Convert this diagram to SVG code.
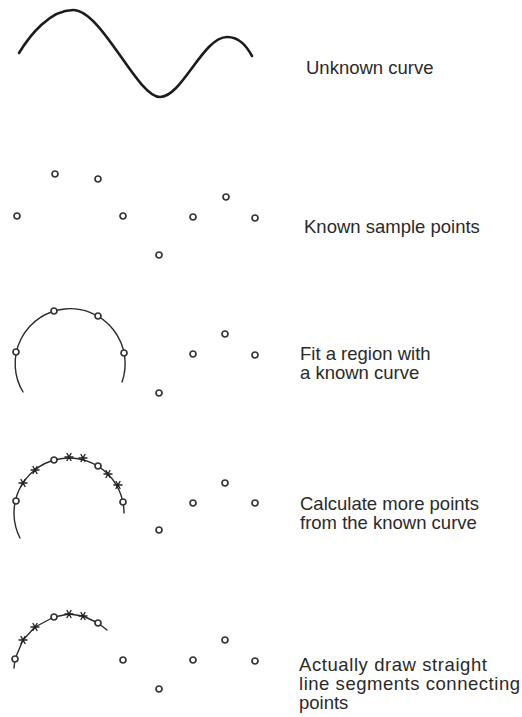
<svg xmlns="http://www.w3.org/2000/svg" xmlns:xlink="http://www.w3.org/1999/xlink" width="522" height="717" viewBox="0 0 522 717">
<style>
.bg{fill:#fff}
.curve{fill:none;stroke:#1c1c1c;stroke-width:2.6;stroke-linecap:round;stroke-linejoin:round}
.arc{fill:none;stroke:#2a2a2a;stroke-width:1.4;stroke-linecap:round;stroke-linejoin:round}
.pt{fill:#fff;stroke:#333;stroke-width:1.7}
.star{fill:none;stroke:#222;stroke-width:1.4;stroke-linecap:round}
.lbl{font-family:"Liberation Sans",Arial,sans-serif;font-size:18.5px;fill:#2a2a2a}
</style>
<defs>
<circle id="p" r="3" class="pt"/>
<path id="s" class="star" d="M-4,0H4M-2,-3.5L2,3.5M-2,3.5L2,-3.5"/>
</defs>
<rect class="bg" width="522" height="717"/>

<g id="panel1">
<path class="curve" d="M19,53 C30,35 50,10 73,10 C102,10 137,97 160,97 C182,97 203,37 227,37 C240,37 247,47 252,56"/>
<text class="lbl" x="306" y="74">Unknown curve</text>
</g>

<g id="panel2">
<use xlink:href="#p" x="55" y="174"/>
<use xlink:href="#p" x="98" y="179"/>
<use xlink:href="#p" x="17" y="216"/>
<use xlink:href="#p" x="123" y="216"/>
<use xlink:href="#p" x="193" y="217"/>
<use xlink:href="#p" x="226" y="197"/>
<use xlink:href="#p" x="255" y="218"/>
<use xlink:href="#p" x="159" y="255"/>
<text class="lbl" x="304" y="233">Known sample points</text>
</g>

<g id="panel3">
<path class="arc" d="M23,392 A55,55 0 1 1 122,382"/>
<use xlink:href="#p" x="54" y="311"/>
<use xlink:href="#p" x="98" y="316"/>
<use xlink:href="#p" x="16" y="352"/>
<use xlink:href="#p" x="124" y="353"/>
<use xlink:href="#p" x="193" y="354"/>
<use xlink:href="#p" x="225" y="334"/>
<use xlink:href="#p" x="255" y="355"/>
<use xlink:href="#p" x="159" y="393"/>
<text class="lbl" x="300" y="360">Fit a region with</text>
<text class="lbl" x="300" y="379">a known curve</text>
</g>

<g id="panel4">
<path class="arc" d="M20,538 A55,55 0 1 1 124,513"/>
<use xlink:href="#s" x="23" y="483"/>
<use xlink:href="#s" x="35" y="470"/>
<use xlink:href="#s" x="69" y="457"/>
<use xlink:href="#s" x="83" y="458"/>
<use xlink:href="#s" x="108" y="474"/>
<use xlink:href="#s" x="118" y="485"/>
<use xlink:href="#p" x="54" y="460"/>
<use xlink:href="#p" x="98" y="466"/>
<use xlink:href="#p" x="16" y="501"/>
<use xlink:href="#p" x="123" y="502"/>
<use xlink:href="#p" x="193" y="503"/>
<use xlink:href="#p" x="225" y="483"/>
<use xlink:href="#p" x="255" y="503"/>
<use xlink:href="#p" x="159" y="530"/>
<text class="lbl" x="300" y="510">Calculate more points</text>
<text class="lbl" x="300" y="529">from the known curve</text>
</g>

<g id="panel5">
<polyline class="arc" points="14,668 15,659 23,640 35,627 54,617 69,614 83,616 98,623 107,630"/>
<use xlink:href="#s" x="23" y="640"/>
<use xlink:href="#s" x="35" y="627"/>
<use xlink:href="#s" x="69" y="614"/>
<use xlink:href="#s" x="83" y="616"/>
<use xlink:href="#p" x="54" y="617"/>
<use xlink:href="#p" x="98" y="623"/>
<use xlink:href="#p" x="15" y="659"/>
<use xlink:href="#p" x="123" y="660"/>
<use xlink:href="#p" x="193" y="660"/>
<use xlink:href="#p" x="225" y="640"/>
<use xlink:href="#p" x="255" y="661"/>
<use xlink:href="#p" x="159" y="689"/>
<text class="lbl" x="299" y="671" textLength="188" lengthAdjust="spacing">Actually draw straight</text>
<text class="lbl" x="299" y="690" textLength="221" lengthAdjust="spacing">line segments connecting</text>
<text class="lbl" x="299" y="709">points</text>
</g>
</svg>
